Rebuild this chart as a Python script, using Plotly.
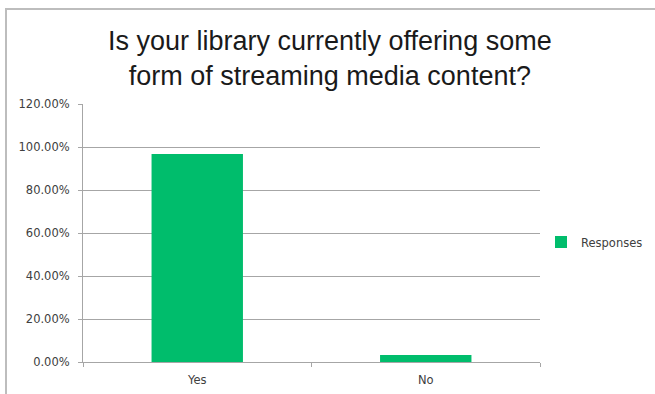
import plotly.graph_objects as go

categories = ["Yes", "No"]
responses = [0.9677, 0.0323]
y_ticks = [0, 0.2, 0.4, 0.6, 0.8, 1.0, 1.2]
series_name = "Responses"
title_lines = ["Is your library currently offering some", "form of streaming media content?"]

GREEN = "#00BD6C"
GRID = "#a6a6a6"
SMALL_FONT = dict(family="DejaVu Sans, Verdana, sans-serif", size=11.5, color="#404040")

# plot-area box in pixels, used to place paper-referenced decorations
L, R, T, B = 83, 115, 104, 32
W, H = 655, 394
PW, PH = W - L - R, H - T - B


def px_x(x):
    return (x - L) / PW


def px_y(y):
    return (H - B - y) / PH


fig = go.Figure()
fig.add_trace(go.Bar(
    x=categories, y=responses, name=series_name,
    marker=dict(color=GREEN, line=dict(width=0)),
    showlegend=True,
))

fig.update_layout(
    width=W, height=H,
    margin=dict(l=L, r=R, t=T, b=B, autoexpand=False),
    paper_bgcolor="white", plot_bgcolor="white",
    bargap=0.6,
    showlegend=True,
    legend=dict(x=px_x(541), y=px_y(242), xanchor="left", yanchor="middle",
                font=SMALL_FONT, itemwidth=30, bgcolor="rgba(0,0,0,0)"),
    xaxis=dict(
        type="category", tickson="boundaries", ticks="outside", ticklen=4,
        tickcolor=GRID, showline=True, linecolor=GRID, linewidth=1,
        showgrid=False, tickfont=SMALL_FONT, ticklabelstandoff=7,
    ),
    yaxis=dict(
        range=[0, 1.2], tickvals=y_ticks, tickformat=".2%",
        ticks="outside", ticklen=4, tickcolor=GRID,
        showline=True, linecolor=GRID, linewidth=1,
        showgrid=True, gridcolor=GRID, gridwidth=1,
        zeroline=False, tickfont=SMALL_FONT, ticklabelstandoff=6,
    ),
    annotations=[dict(
        text="<br>".join(title_lines), xref="paper", yref="paper",
        x=px_x(330), y=px_y(24), xanchor="center", yanchor="top", showarrow=False,
        font=dict(family="Liberation Sans, Arial, sans-serif", size=27, color="#1a1a1a"),
        align="center",
    )],
    shapes=[dict(
        type="rect", xref="paper", yref="paper",
        x0=px_x(6), x1=px_x(700), y0=px_y(450), y1=px_y(9),
        line=dict(color="#bdbdbd", width=2), fillcolor="rgba(0,0,0,0)", layer="below",
    )],
)

fig.write_html("out.html")
